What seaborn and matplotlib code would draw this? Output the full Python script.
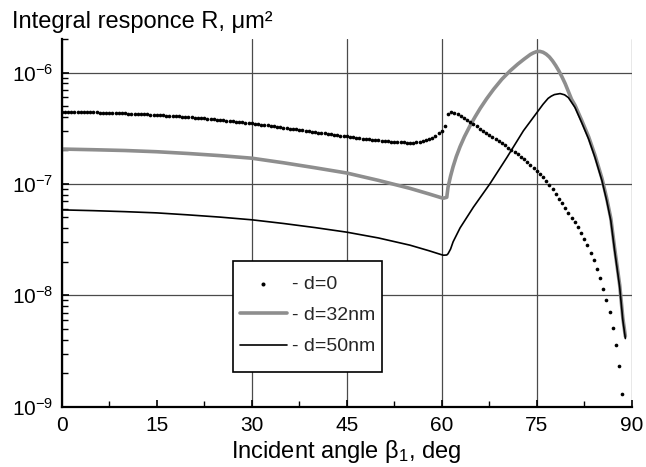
import numpy as np
import pandas as pd
import matplotlib
matplotlib.use("Agg")
import matplotlib.pyplot as plt
import matplotlib.ticker as mticker
from matplotlib.patches import Rectangle
import seaborn as sns

# ---------------- data (log10 of R) ----------------
angle_d0 = np.arange(0.0, 89.0, 0.5)
log_d0 = [
    -6.350, -6.350, -6.351, -6.351, -6.352, -6.353, -6.354, -6.355, -6.356, -6.356,
    -6.357, -6.358, -6.359, -6.360, -6.361, -6.362, -6.363, -6.364, -6.365, -6.366,
    -6.367, -6.368, -6.370, -6.371, -6.372, -6.374, -6.375, -6.376, -6.378, -6.379,
    -6.380, -6.382, -6.384, -6.386, -6.388, -6.390, -6.392, -6.394, -6.396, -6.398,
    -6.400, -6.402, -6.405, -6.407, -6.410, -6.412, -6.415, -6.417, -6.420, -6.422,
    -6.425, -6.428, -6.431, -6.434, -6.437, -6.440, -6.443, -6.446, -6.449, -6.452,
    -6.455, -6.459, -6.463, -6.467, -6.471, -6.475, -6.479, -6.483, -6.487, -6.491,
    -6.495, -6.499, -6.503, -6.507, -6.511, -6.515, -6.519, -6.523, -6.527, -6.531,
    -6.535, -6.539, -6.543, -6.547, -6.551, -6.555, -6.559, -6.563, -6.566, -6.570,
    -6.574, -6.578, -6.582, -6.586, -6.589, -6.593, -6.597, -6.600, -6.603, -6.607,
    -6.610, -6.613, -6.615, -6.618, -6.620, -6.622, -6.625, -6.626, -6.628, -6.629,
    -6.630, -6.630, -6.628, -6.624, -6.618, -6.610, -6.600, -6.585, -6.566, -6.545,
    -6.527, -6.483, -6.368, -6.353, -6.362, -6.375, -6.390, -6.407, -6.425, -6.443,
    -6.462, -6.483, -6.505, -6.522, -6.540, -6.559, -6.578, -6.597, -6.617, -6.636,
    -6.655, -6.675, -6.695, -6.715, -6.735, -6.757, -6.780, -6.805, -6.830, -6.855,
    -6.880, -6.910, -6.940, -6.975, -7.010, -7.050, -7.090, -7.132, -7.175, -7.218,
    -7.260, -7.302, -7.344, -7.383, -7.439, -7.492, -7.552, -7.618, -7.687, -7.767,
    -7.845, -7.940, -8.038, -8.152, -8.289, -8.448, -8.636, -8.886,
]

angle_d32 = [0, 5, 10, 15, 20, 25, 30, 35, 40, 45, 50, 55, 58, 60, 60.3, 60.8,
             61.0, 61.4, 61.8, 62.3, 62.9, 63.6, 64.5, 65.3, 66.1, 67.1, 68.2,
             69.5, 70.8, 72.0, 73.0, 74.0, 74.5, 75.0, 75.5, 76.0, 76.5, 77.0,
             77.5, 78.0, 78.5, 79.0, 79.5, 80.0, 80.5, 81.05, 82.1, 83.2, 84.2,
             85.3, 86.05, 86.7, 87.3, 88.1, 88.6, 89.0]
log_d32 = [-6.687, -6.693, -6.700, -6.711, -6.727, -6.746, -6.769, -6.810,
           -6.855, -6.902, -6.968, -7.040, -7.090, -7.125, -7.128, -7.120,
           -7.030, -6.930, -6.845, -6.755, -6.665, -6.575, -6.475, -6.395,
           -6.320, -6.235, -6.150, -6.060, -5.985, -5.925, -5.880, -5.838,
           -5.823, -5.812, -5.810, -5.818, -5.835, -5.860, -5.895, -5.937,
           -5.985, -6.040, -6.100, -6.170, -6.240, -6.294, -6.429, -6.577,
           -6.742, -6.950, -7.129, -7.309, -7.576, -7.906, -8.204, -8.368]

angle_d50 = [0, 5, 10, 15, 20, 25, 30, 35, 40, 45, 50, 55, 58, 60, 60.3, 60.8,
             61.0, 61.4, 61.8, 62.9, 65.0, 67.6, 70.3, 72.9, 75.0, 76.0, 76.8,
             77.3, 77.8, 78.7, 79.4, 80.0, 81.05, 82.1, 83.2, 84.2, 85.3, 86.05,
             86.7, 87.3, 88.1, 88.6, 89.0]
log_d50 = [-7.233, -7.240, -7.249, -7.260, -7.278, -7.298, -7.322, -7.355,
           -7.392, -7.433, -7.485, -7.550, -7.600, -7.636, -7.640, -7.638,
           -7.627, -7.585, -7.520, -7.395, -7.209, -7.000, -6.762, -6.523,
           -6.362, -6.285, -6.232, -6.212, -6.198, -6.189, -6.200, -6.225,
           -6.314, -6.449, -6.597, -6.762, -6.970, -7.149, -7.329, -7.596,
           -7.926, -8.224, -8.388]

labels = ["- d=0", "- d=32nm", "- d=50nm"]
x_ticks = [0, 15, 30, 45, 60, 75, 90]
y_ticks = [1e-9, 1e-8, 1e-7, 1e-6]

df0 = pd.DataFrame({"angle": angle_d0, "R": 10.0 ** np.array(log_d0)})
df32 = pd.DataFrame({"angle": angle_d32, "R": 10.0 ** np.array(log_d32)})
df50 = pd.DataFrame({"angle": angle_d50, "R": 10.0 ** np.array(log_d50)})

# ---------------- style ----------------
sns.set_theme(style="ticks")
plt.rcParams["font.family"] = ["Liberation Sans", "DejaVu Sans"]
plt.rcParams["mathtext.fontset"] = "custom"
plt.rcParams["mathtext.rm"] = "Liberation Sans"
plt.rcParams["mathtext.it"] = "Liberation Sans"
plt.rcParams["mathtext.bf"] = "Liberation Sans:bold"

W, H = 646, 467
fig = plt.figure(figsize=(W / 100, H / 100), dpi=100)
ax = fig.add_axes([61.7 / W, 1 - 406.7 / H, (631.7 - 61.7) / W, (406.7 - 39) / H])

sns.scatterplot(data=df0, x="angle", y="R", ax=ax, color="black", s=7,
                linewidth=0, marker="o", label=labels[0], zorder=3)
sns.lineplot(data=df32, x="angle", y="R", ax=ax, color="#8e8e8e", linewidth=2.6,
             label=labels[1], zorder=2, sort=False)
sns.lineplot(data=df50, x="angle", y="R", ax=ax, color="black", linewidth=1.2,
             label=labels[2], zorder=4, sort=False)

ax.set_yscale("log")
ax.set_xlim(0, 90)
ax.set_ylim(1e-9, 2e-6)
ax.set_xticks(x_ticks)
ax.set_yticks(y_ticks)
ax.xaxis.set_minor_locator(mticker.MultipleLocator(7.5))
ax.yaxis.set_minor_locator(mticker.LogLocator(base=10, subs=np.arange(2, 10), numticks=20))
ax.yaxis.set_minor_formatter(mticker.NullFormatter())

ax.grid(True, which="major", color="#4a4a4a", linewidth=0.9)
for gl in ax.get_xgridlines():
    xv = gl.get_xdata()[0]
    if abs(xv - 90) < 1e-6 or abs(xv) < 1e-6:
        gl.set_visible(False)

for side in ["top", "right"]:
    ax.spines[side].set_visible(False)
for side in ["left", "bottom"]:
    ax.spines[side].set_linewidth(1.6)
    ax.spines[side].set_color("black")

ax.tick_params(which="both", direction="in", color="black", labelsize=15,
               labelcolor="black")
ax.tick_params(which="major", length=5, width=1.2)
ax.tick_params(which="minor", length=4, width=1.0)
ax.tick_params(axis="x", pad=7)
ax.tick_params(axis="y", pad=6)

ax.set_xlabel(r"Incident angle β$_{1}$, deg", fontsize=17, labelpad=2, color="black")
ax.set_ylabel("")
fig.text(12 / W, 1 - 28 / H, "Integral responce R, μm²", fontsize=17,
         va="baseline", ha="left", color="black")

# legend: frame drawn as a rectangle, entries as a figure legend on top
handles, _ = ax.get_legend_handles_labels()
ax.get_legend().remove()
frame = Rectangle((233 / W, 1 - 372 / H), (382 - 233) / W, (372 - 261) / H,
                  transform=fig.transFigure, facecolor="white", edgecolor="black",
                  linewidth=1.2, zorder=5)
fig.patches.append(frame)
leg = fig.legend(handles, labels, loc="upper left",
                 bbox_to_anchor=(240 / W, 1 - 275 / H), bbox_transform=fig.transFigure,
                 fontsize=14, frameon=False, borderpad=0, labelspacing=0.71,
                 handlelength=2.4, handletextpad=0.3, borderaxespad=0,
                 markerscale=1.1)
leg.set_zorder(6)

fig.savefig("out.png", dpi=100)
